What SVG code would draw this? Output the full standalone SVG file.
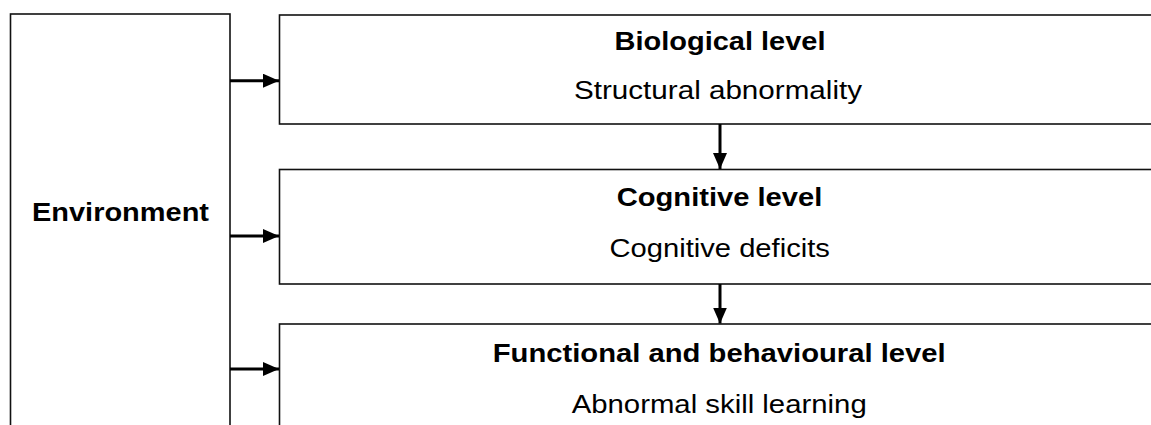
<svg xmlns="http://www.w3.org/2000/svg" width="1151" height="425" viewBox="0 0 1151 425">
  <style>
    .box { fill: #ffffff; stroke: #111111; stroke-width: 1.6; }
    .title { font-family: "Liberation Sans", Arial, sans-serif; font-size: 26.5px; font-weight: bold; fill: #000000; text-anchor: middle; }
    .sub { font-family: "Liberation Sans", Arial, sans-serif; font-size: 26.5px; fill: #000000; text-anchor: middle; }
    .conn { stroke: #000000; stroke-width: 3; fill: none; }
  </style>
  <defs>
    <marker id="head" viewBox="0 0 16 14" refX="16" refY="7" markerWidth="16" markerHeight="14" markerUnits="userSpaceOnUse" orient="auto">
      <path d="M0,0 L16,7 L0,14 Z" fill="#000000"/>
    </marker>
  </defs>
  <rect width="1151" height="425" fill="#ffffff"/>

  <g id="environment">
    <rect class="box" x="10.5" y="14" width="219.5" height="430"/>
    <text class="title" x="120.5" y="220.5" textLength="177" lengthAdjust="spacingAndGlyphs">Environment</text>
  </g>

  <g id="biological">
    <rect class="box" x="279.5" y="15" width="900" height="109"/>
    <text class="title" x="720" y="50" textLength="211" lengthAdjust="spacingAndGlyphs">Biological level</text>
    <text class="sub" x="718" y="99" textLength="288" lengthAdjust="spacingAndGlyphs">Structural abnormality</text>
  </g>

  <g id="cognitive">
    <rect class="box" x="279.5" y="169.5" width="900" height="114.5"/>
    <text class="title" x="719.5" y="206" textLength="205.5" lengthAdjust="spacingAndGlyphs">Cognitive level</text>
    <text class="sub" x="719.7" y="256.5" textLength="220.5" lengthAdjust="spacingAndGlyphs">Cognitive deficits</text>
  </g>

  <g id="functional">
    <rect class="box" x="279.5" y="324" width="900" height="130"/>
    <text class="title" x="719.2" y="361.5" textLength="453" lengthAdjust="spacingAndGlyphs">Functional and behavioural level</text>
    <text class="sub" x="719.2" y="413" textLength="295" lengthAdjust="spacingAndGlyphs">Abnormal skill learning</text>
  </g>

  <g id="connectors">
    <line class="conn" x1="230" y1="80.7" x2="279" y2="80.7" marker-end="url(#head)"/>
    <line class="conn" x1="230" y1="236" x2="279" y2="236" marker-end="url(#head)"/>
    <line class="conn" x1="230" y1="369" x2="279" y2="369" marker-end="url(#head)"/>
    <line class="conn" x1="720" y1="124" x2="720" y2="169" marker-end="url(#head)"/>
    <line class="conn" x1="720" y1="284" x2="720" y2="323.5" marker-end="url(#head)"/>
  </g>
</svg>
